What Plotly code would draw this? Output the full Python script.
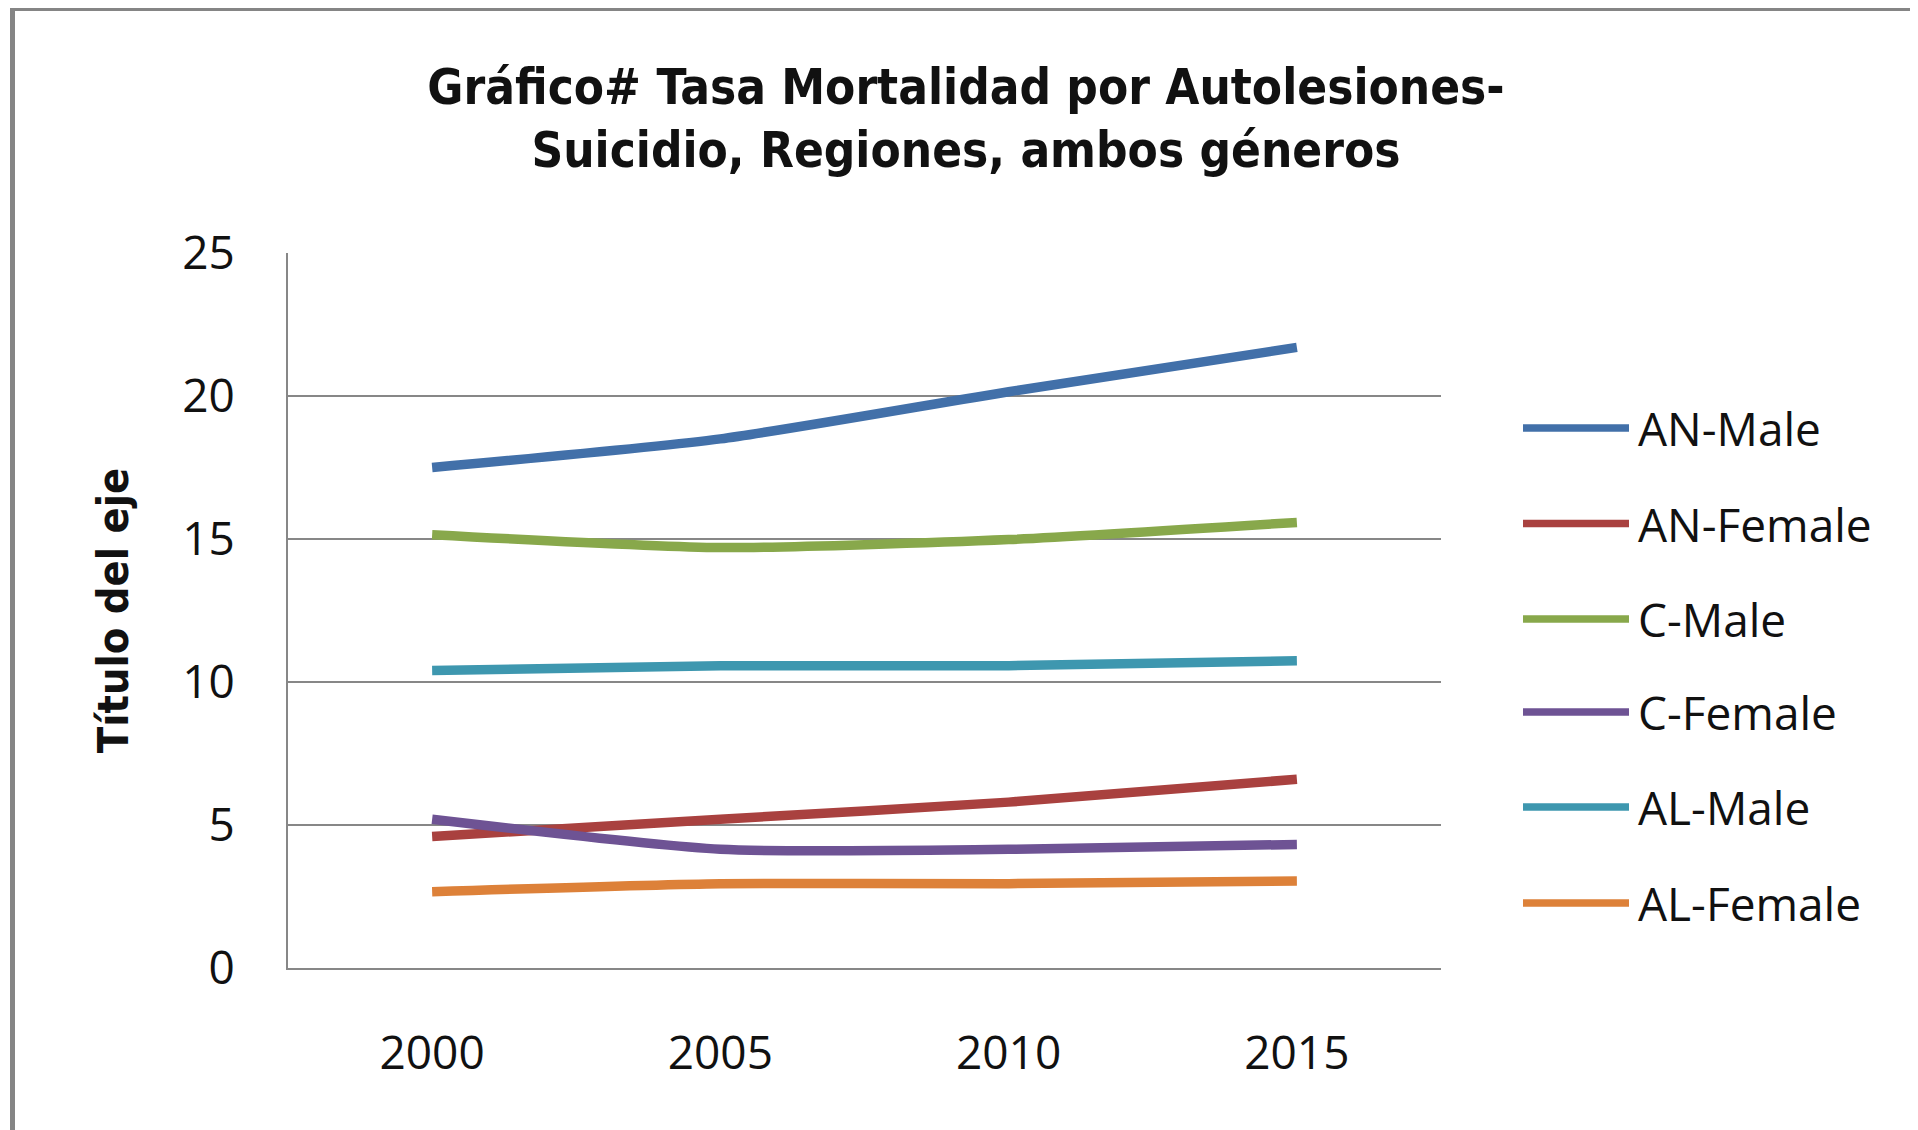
import plotly.graph_objects as go

# data
years = ["2000", "2005", "2010", "2015"]
series_names = ["AN-Male", "AN-Female", "C-Male", "C-Female", "AL-Male", "AL-Female"]
an_male = [17.5, 18.5, 20.15, 21.7]
an_female = [4.6, 5.2, 5.8, 6.6]
c_male = [15.15, 14.7, 14.98, 15.58]
c_female = [5.2, 4.15, 4.15, 4.32]
al_male = [10.4, 10.57, 10.57, 10.74]
al_female = [2.67, 2.95, 2.95, 3.04]
y_ticks = [0, 5, 10, 15, 20, 25]

values = [an_male, an_female, c_male, c_female, al_male, al_female]
colors = ["#4270A9", "#A9413F", "#88A84B", "#6E5394", "#3E97AF", "#DD8139"]

# the page body adds an 8px margin, so positions below are page px minus OFF
OFF = 8
W, H = 1918, 1130
L, R, T, B = 280, 485, 245, 170
plot_w = W - L - R
plot_h = H - T - B

def paper_x(px):
    return (px - OFF - L) / plot_w

def paper_y(py):
    return (H - B - (py - OFF)) / plot_h

fig = go.Figure()
for name, ys, col in zip(series_names, values, colors):
    fig.add_trace(go.Scatter(x=years, y=ys, name=name, mode="lines",
                             line=dict(color=col, width=9.5, shape="spline", smoothing=0.6),
                             showlegend=False))

# hand-made legend, Excel style (long line sample)
leg_y = [428, 523.5, 619, 712, 807, 903]
for name, col, py in zip(series_names, colors, leg_y):
    fig.add_shape(type="line", xref="paper", yref="paper",
                  x0=paper_x(1523), x1=paper_x(1629), y0=paper_y(py), y1=paper_y(py),
                  line=dict(color=col, width=7.5))
    fig.add_annotation(text=name, xref="paper", yref="paper", x=paper_x(1636), y=paper_y(py),
                       xanchor="left", yanchor="middle", showarrow=False,
                       font=dict(family="Open Sans", size=46, color="#111111"))

# outer frame (only top and left edges visible in the crop)
fig.add_shape(type="rect", xref="paper", yref="paper",
              x0=paper_x(12.5), x1=paper_x(2600), y0=paper_y(1600), y1=paper_y(8.5),
              line=dict(color="#858585", width=5), layer="below")

fig.update_layout(
    width=W, height=H,
    margin=dict(l=L, r=R, t=T, b=B),
    paper_bgcolor="white", plot_bgcolor="white",
    title=dict(text="Gráfico# Tasa Mortalidad por Autolesiones-<br>Suicidio, Regiones, ambos géneros",
               x=(966 - OFF) / W, xanchor="center", y=1 - 95.5 / H, yanchor="middle",
               font=dict(family="Liberation Sans Narrow, DejaVu Sans Condensed, Liberation Sans",
                         size=49, color="#111111", weight="bold")),
    xaxis=dict(type="category", range=[-0.5, 3.5], showgrid=False, showline=True,
               linecolor="#878787", linewidth=2, ticks="", ticklabelstandoff=44,
               tickfont=dict(family="Open Sans", size=46, color="#111111")),
    yaxis=dict(range=[0, 25], tickvals=y_ticks, showgrid=True, gridcolor="#878787", gridwidth=2,
               showline=True, linecolor="#878787", linewidth=2, zeroline=False, ticks="",
               ticklabelstandoff=42,
               tickfont=dict(family="Open Sans", size=46, color="#111111"),
               title=dict(text="Título del eje", standoff=40,
                          font=dict(family="Liberation Sans Narrow, DejaVu Sans Condensed, Liberation Sans",
                                    size=43, color="#111111", weight="bold"))),
)

fig.write_html("out.html")
